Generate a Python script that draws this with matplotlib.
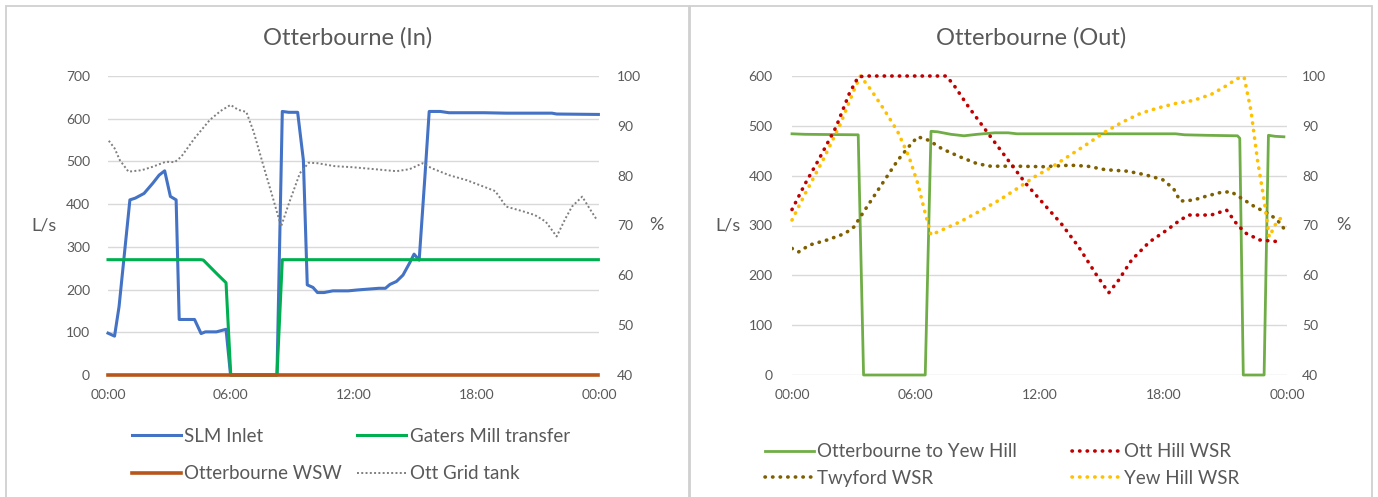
import numpy as np
import matplotlib
matplotlib.use("Agg")
import matplotlib.pyplot as plt
from matplotlib.patches import Rectangle

plt.rcParams['font.family'] = ['Lato', 'DejaVu Sans']

TEXT_COLOR = '#595959'
GRID_COLOR = '#D9D9D9'

# ---- Otterbourne (In) data, hours since midnight ----
slm_t = [0, 0.32, 0.54, 1.07, 1.33, 1.76, 2.19, 2.5, 2.77, 3.05, 3.33, 3.48, 4.23, 4.55,
         4.76, 5.3, 5.77, 5.99, 8.26, 8.52, 8.84, 9.27, 9.55, 9.74, 10.02, 10.24, 10.56,
         10.99, 11.74, 12.17, 12.7, 13.24, 13.56, 13.78, 14.1, 14.42, 14.74, 14.96, 15.21,
         15.49, 15.7, 16.24, 16.67, 18.39, 19.46, 21.7, 21.93, 23.97]
slm_v = [98, 91, 160, 410, 414, 425, 449, 468, 478, 418, 410, 130, 130, 97,
         101, 101, 107, 0, 0, 617, 615, 615, 503, 211, 205, 193, 193,
         197, 197, 199, 201, 203, 203, 212, 219, 234, 262, 283, 269,
         464, 617, 617, 614, 614, 613, 613, 611, 610]

gaters_t = [0, 4.55, 4.66, 5.3, 5.77, 6.0, 8.26, 8.52, 23.97]
gaters_v = [270, 270, 269, 238, 216, 0, 0, 270, 270]

wsw_t = [0, 23.97]
wsw_v = [0, 0]

grid_t = [0.04, 0.32, 0.58, 1.0, 1.65, 2.19, 2.83, 3.26, 3.58, 4.23, 4.98, 5.51, 5.99,
          6.37, 6.76, 7.12, 7.66, 8.09, 8.46, 8.84, 9.38, 9.81, 10.24, 11.1, 11.95, 13.03,
          14.1, 14.74, 15.38, 15.82, 16.67, 17.53, 18.17, 18.93, 19.46, 20.32, 20.86, 21.39,
          21.93, 22.36, 22.68, 23.18, 23.54, 23.9]
grid_pct = [87, 85.5, 83.1, 80.8, 81.1, 81.8, 82.8, 82.7, 83.8, 87.5, 91.2, 93.0, 94.2,
            93.2, 92.8, 88.8, 81.1, 75.1, 69.8, 74.4, 80.5, 82.6, 82.5, 81.9, 81.7, 81.3,
            80.9, 81.3, 82.5, 81.5, 80.1, 79.1, 78.1, 76.9, 73.8, 72.8, 72.1, 70.8,
            67.8, 71.4, 73.8, 75.8, 73.4, 71.1]

# ---- Otterbourne (Out) data ----
yew_main_t = [0, 0.64, 3.21, 3.47, 6.46, 6.74, 7.06, 7.7, 8.34, 8.98, 9.84, 10.48, 10.91,
              18.6, 19.04, 20.1, 21.6, 21.71, 21.88, 22.89, 23.1, 23.42, 23.85]
yew_main_v = [484, 483, 482, 0, 0, 489, 488, 483, 480, 483, 486, 486, 484,
              484, 482, 481, 480, 475, 0, 0, 481, 479, 478]

otthill_t = [0, 0.64, 1.28, 2.14, 2.78, 3.21, 3.53, 7.49, 7.91, 8.56, 9.63, 10.48, 11.34,
             12.19, 13.05, 13.9, 14.76, 15.36, 15.83, 16.47, 17.33, 18.18, 18.82, 19.25,
             20.32, 21.07, 21.6, 22.03, 22.67, 23.74]
otthill_pct = [73.2, 78.4, 83.1, 89.8, 96.5, 99.8, 100, 100, 97.8, 93.8, 87.8, 83.1, 78.4,
               74.4, 70.4, 65.7, 60.1, 56.5, 59.0, 63.1, 66.7, 69.1, 71.1, 72.1,
               72.1, 73.1, 70.1, 68.4, 67.1, 66.7]

twyford_t = [0, 0.32, 0.86, 1.71, 2.57, 3.0, 3.42, 4.28, 5.13, 5.78, 6.1, 6.63, 7.27, 8.13,
             8.98, 9.63, 10.91, 12.19, 13.48, 14.33, 15.19, 16.26, 17.11, 17.97, 18.5,
             18.82, 19.46, 20.1, 20.75, 21.28, 21.82, 22.46, 23.1, 23.53, 23.85]
twyford_pct = [65.4, 64.7, 66.1, 67.1, 68.4, 69.7, 72.4, 77.8, 83.1, 86.4, 87.8, 87.1, 85.4,
               83.8, 82.4, 81.9, 81.9, 81.8, 82.1, 81.9, 81.2, 80.9, 80.2, 79.2, 77.4,
               74.9, 75.1, 75.9, 76.6, 76.8, 75.4, 73.7, 72.4, 71.1, 69.4]

yewhill_t = [0, 0.64, 1.5, 2.35, 3.0, 3.32, 3.85, 4.49, 5.13, 5.67, 6.1, 6.42, 6.74, 7.27,
             8.13, 9.2, 10.05, 10.91, 11.77, 12.62, 13.48, 14.33, 15.19, 16.04, 16.9, 17.75,
             18.61, 19.46, 20.32, 20.96, 21.6, 21.92, 22.25, 22.57, 22.89, 23.14, 23.42, 23.74]
yewhill_pct = [71.1, 76.4, 83.1, 90.4, 97.1, 100, 97.1, 93.1, 88.8, 83.8, 78.4, 73.1, 68.1,
               69.1, 70.7, 73.1, 75.1, 77.4, 79.8, 81.8, 84.1, 86.4, 88.8, 90.8, 92.5, 93.6,
               94.5, 95.1, 96.3, 97.8, 99.5, 99.8, 93.1, 83.1, 75.1, 67.7, 70.1, 71.7]

x_ticks = [0, 6, 12, 18, 24]
x_labels = ['00:00', '06:00', '12:00', '18:00', '00:00']

W, H = 1378, 497
fig = plt.figure(figsize=(W / 100, H / 100), dpi=100)


def px_axes(x0, x1, y0, y1):
    return fig.add_axes([x0 / W, 1 - y1 / H, (x1 - x0) / W, (y1 - y0) / H])


def style_axes(ax, ax2, ymax, ystep, ylab_pad, pct_pad):
    ax.set_xlim(0, 24)
    ax.set_ylim(0, ymax)
    ax.set_yticks(np.arange(0, ymax + 1, ystep))
    ax.set_xticks(x_ticks)
    ax.set_xticklabels(x_labels)
    ax2.set_ylim(40, 100)
    ax2.set_yticks(np.arange(40, 101, 10))
    ax.grid(axis='y', color=GRID_COLOR, lw=1)
    ax.set_axisbelow(True)
    for a in (ax, ax2):
        for s in a.spines.values():
            s.set_visible(False)
    ax.tick_params(axis='both', length=0, labelsize=10, labelcolor=TEXT_COLOR)
    ax.tick_params(axis='y', pad=ylab_pad)
    ax.tick_params(axis='x', pad=10)
    ax2.tick_params(axis='y', length=0, labelsize=10, labelcolor=TEXT_COLOR, pad=pct_pad)
    ax.set_ylabel('L/s', rotation=0, color=TEXT_COLOR, fontsize=13, ha='center', va='center')
    ax2.set_ylabel('%', rotation=0, color=TEXT_COLOR, fontsize=13, ha='center', va='center')


# panel borders
for (x0, x1) in [(6, 689), (690, 1372)]:
    fig.patches.append(Rectangle((x0 / W, -0.05), (x1 - x0) / W, 1 - 6 / H + 0.05,
                                 transform=fig.transFigure, fill=False,
                                 ec='#D0D0D0', lw=1.3))

# ---- left panel ----
axL = px_axes(108, 599, 76, 375)
axL2 = axL.twinx()
style_axes(axL, axL2, 700, 100, 13, 13)
axL.yaxis.set_label_coords(-0.130, 0.50)
axL2.yaxis.set_label_coords(1.116, 0.50)

l_slm, = axL.plot(slm_t, slm_v, color='#4472C4', lw=2.2, clip_on=False)
l_gat, = axL.plot(gaters_t, gaters_v, color='#00B050', lw=2.2, clip_on=False)
l_wsw, = axL.plot(wsw_t, wsw_v, color='#B8551A', lw=2.6, clip_on=False)
l_grd, = axL2.plot(grid_t, grid_pct, color='#7F7F7F', lw=1.4, ls=(0, (1, 1.2)))
fig.text(348 / W, 1 - 38 / H, 'Otterbourne (In)', ha='center', va='center',
         fontsize=17, color=TEXT_COLOR)

legL = axL2.legend([l_slm, l_wsw, l_gat, l_grd],
                   ['SLM Inlet', 'Otterbourne WSW', 'Gaters Mill transfer', 'Ott Grid tank'],
                   ncol=2, loc='center left', bbox_to_anchor=(115 / W, 1 - 455 / H),
                   bbox_transform=fig.transFigure, frameon=False, fontsize=13.5,
                   handlelength=2.6, handletextpad=0.2, columnspacing=0.8,
                   labelspacing=1.1, labelcolor=TEXT_COLOR)

# ---- right panel ----
axR = px_axes(792, 1287, 76, 375)
axR2 = axR.twinx()
style_axes(axR, axR2, 600, 100, 14, 11)
axR.yaxis.set_label_coords(-0.129, 0.50)
axR2.yaxis.set_label_coords(1.115, 0.50)

dot = (0, (0.1, 2.0))
r_main, = axR.plot(yew_main_t, yew_main_v, color='#70AD47', lw=2.0, clip_on=False)
r_twy, = axR2.plot(twyford_t, twyford_pct, color='#7F6000', lw=2.6, ls=dot,
                   dash_capstyle='round')
r_yew, = axR2.plot(yewhill_t, yewhill_pct, color='#FFC000', lw=2.6, ls=dot,
                   dash_capstyle='round', clip_on=False)
r_ott, = axR2.plot(otthill_t, otthill_pct, color='#C00000', lw=2.6, ls=dot,
                   dash_capstyle='round', clip_on=False)
fig.text(1031 / W, 1 - 38 / H, 'Otterbourne (Out)', ha='center', va='center',
         fontsize=17, color=TEXT_COLOR)

legR = axR2.legend([r_main, r_twy, r_ott, r_yew],
                   ['Otterbourne to Yew Hill', 'Twyford WSR', 'Ott Hill WSR', 'Yew Hill WSR'],
                   ncol=2, loc='center left', bbox_to_anchor=(748 / W, 1 - 465 / H),
                   bbox_transform=fig.transFigure, frameon=False, fontsize=13.5,
                   handlelength=2.6, handletextpad=0.2, columnspacing=2.9,
                   labelspacing=0.5, labelcolor=TEXT_COLOR)

fig.savefig('out.png', dpi=100)
